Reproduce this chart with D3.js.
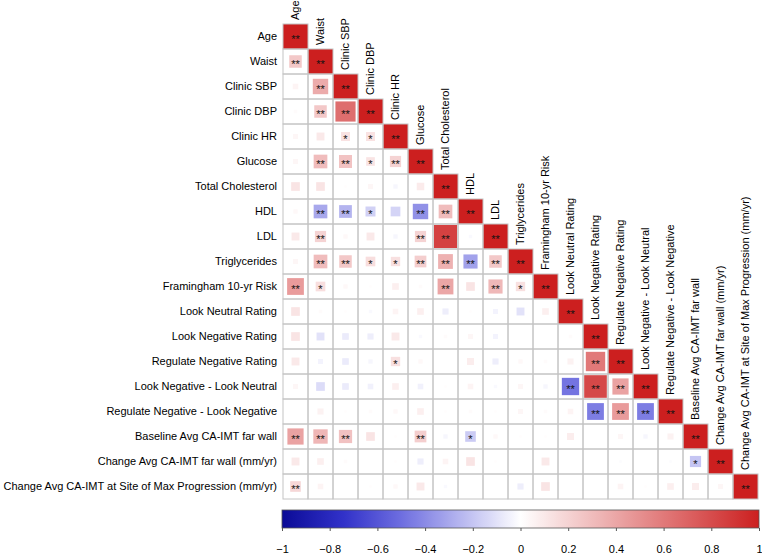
<!DOCTYPE html>
<html><head><meta charset="utf-8">
<script src="https://cdn.jsdelivr.net/npm/d3@7/dist/d3.min.js"></script>
<style>body{margin:0;background:#fff}svg{display:block}text{font-family:"Liberation Sans",Arial,sans-serif}</style>
</head><body><svg id="c" width="762" height="556"></svg>
<script>
const variables = ["Age","Waist","Clinic SBP","Clinic DBP","Clinic HR","Glucose","Total Cholesterol","HDL","LDL","Triglycerides","Framingham 10-yr Risk","Look Neutral Rating","Look Negative Rating","Regulate Negative Rating","Look Negative - Look Neutral","Regulate Negative - Look Negative","Baseline Avg CA-IMT far wall","Change Avg CA-IMT far wall (mm/yr)","Change Avg CA-IMT at Site of Max Progression (mm/yr)"];

// lower-triangle correlations (row i: columns 0..i)
const corrRows = [
  [1],
  [0.25,1],
  [0.05,0.38,1],
  [0.02,0.25,0.65,1],
  [0.04,0.10,0.13,0.13,1],
  [0.04,0.30,0.27,0.12,0.20,1],
  [0.12,0.12,0.01,0.04,-0.03,0.09,1],
  [0.03,-0.30,-0.26,-0.16,-0.15,-0.38,0.30,1],
  [0.10,0.20,0.03,0.10,-0.03,0.20,0.85,-0.02,1],
  [0.04,0.30,0.25,0.15,0.14,0.22,0.35,-0.32,0.25,1],
  [0.45,0.15,0.03,0.01,0.07,0.02,0.40,0.12,0.32,0.14,1],
  [0.12,0.02,0.01,-0.02,0.05,0.07,-0.06,0.01,-0.04,-0.10,0.07,1],
  [0.12,-0.10,-0.07,-0.06,0.10,-0.02,0.02,0.04,-0.04,0.00,0.00,0.02,1],
  [0.10,-0.04,-0.07,-0.03,0.14,0.03,0.00,0.08,-0.06,0.03,0.02,0.06,0.60,1],
  [0.04,-0.12,-0.07,-0.05,0.07,-0.05,0.01,0.05,-0.02,0.04,-0.03,-0.48,0.82,0.42,1],
  [0.00,0.06,0.01,0.02,0.03,0.07,0.01,0.02,0.01,0.04,0.02,0.05,-0.45,0.45,-0.45,1],
  [0.42,0.33,0.28,0.12,0.01,0.22,-0.03,-0.18,0.03,0.01,0.01,0.08,0.00,0.04,-0.03,0.06,1],
  [0.10,0.07,0.02,0.00,0.01,-0.06,0.05,0.12,0.01,0.00,0.10,0.00,0.00,-0.01,0.00,-0.01,-0.20,1],
  [0.18,0.05,0.00,0.01,0.03,0.10,-0.02,0.00,0.00,-0.06,0.12,0.00,0.00,0.05,0.01,0.07,0.08,0.04,1]
];

// significance level per cell: 0 none, 1 "*", 2 "**"
const sigRows = [
  [2],
  [2,2],
  [0,2,2],
  [0,2,2,2],
  [0,0,1,1,2],
  [0,2,2,1,2,2],
  [0,0,0,0,0,0,2],
  [0,2,2,1,0,2,2,2],
  [0,2,0,0,0,2,2,0,2],
  [0,2,2,1,1,2,2,2,2,2],
  [2,1,0,0,0,0,2,0,2,1,2],
  [0,0,0,0,0,0,0,0,0,0,0,2],
  [0,0,0,0,0,0,0,0,0,0,0,0,2],
  [0,0,0,0,1,0,0,0,0,0,0,0,2,2],
  [0,0,0,0,0,0,0,0,0,0,0,2,2,2,2],
  [0,0,0,0,0,0,0,0,0,0,0,0,2,2,2,2],
  [2,2,2,0,0,2,0,1,0,0,0,0,0,0,0,0,2],
  [0,0,0,0,0,0,0,0,0,0,0,0,0,0,0,0,1,2],
  [2,0,0,0,0,0,0,0,0,0,0,0,0,0,0,0,0,0,2]
];

const colorTicks = [-1,-0.8,-0.6,-0.4,-0.2,0,0.2,0.4,0.6,0.8,1];
const colorStops = [-1,-0.75,-0.5,0,0.5,1];
const colorValues = ["#0b0b96","#3030c8","#6e6ee0","#ffffff","#e69090","#cc1f1f"];

const FS = 11;
const svg = d3.select("#c");
const color = d3.scaleLinear().domain(colorStops).range(colorValues).clamp(true);
const xs = d3.scaleBand().domain(variables).range([283,758]);
const ys = d3.scaleBand().domain(variables).range([24,499]);
const cw = xs.bandwidth();

const cells = [];
corrRows.forEach((row,i)=>row.forEach((r,j)=>cells.push({i,j,r,s:sigRows[i][j]})));

const g = svg.append("g");
g.selectAll("rect.bg").data(cells).join("rect")
  .attr("x",d=>xs(variables[d.j])).attr("y",d=>ys(variables[d.i]))
  .attr("width",cw).attr("height",cw).attr("fill","#fff");
g.selectAll("rect.sq").data(cells).join("rect")
  .attr("x",d=>{const s=Math.sqrt(Math.abs(d.r))*cw;return xs(variables[d.j])+(cw-s)/2;})
  .attr("y",d=>{const s=Math.sqrt(Math.abs(d.r))*cw;return ys(variables[d.i])+(cw-s)/2;})
  .attr("width",d=>Math.sqrt(Math.abs(d.r))*cw)
  .attr("height",d=>Math.sqrt(Math.abs(d.r))*cw)
  .attr("fill",d=>color(d.r));
g.selectAll("rect.grid").data(cells).join("rect")
  .attr("x",d=>xs(variables[d.j])).attr("y",d=>ys(variables[d.i]))
  .attr("width",cw).attr("height",cw).attr("fill","none")
  .attr("stroke","#c4c4c4").attr("stroke-width",1);
g.selectAll("text.star").data(cells.filter(d=>d.s>0)).join("text")
  .attr("x",d=>xs(variables[d.j])+cw/2)
  .attr("y",d=>ys(variables[d.i])+cw/2+6.5)
  .attr("text-anchor","middle").attr("font-size",11).attr("fill","#111")
  .text(d=>d.s===2?"**":"*");

svg.append("g").selectAll("text").data(variables).join("text")
  .attr("x",277).attr("y",d=>ys(d)+cw/2).attr("dy","0.35em")
  .attr("text-anchor","end").attr("font-size",FS).attr("fill","#000").text(d=>d);
svg.append("g").selectAll("text").data(variables).join("text")
  .attr("transform",d=>`translate(${xs(d)+cw/2},${ys(d)-4}) rotate(-90)`)
  .attr("dy","0.35em").attr("font-size",FS).attr("fill","#000").text(d=>d);

const cb = d3.scaleLinear().domain([-1,1]).range([282,759]);
const defs = svg.append("defs");
const grad = defs.append("linearGradient").attr("id","cg").attr("x1","0%").attr("x2","100%");
d3.range(0,101).forEach(k=>{
  const v=-1+2*k/100;
  grad.append("stop").attr("offset",k+"%").attr("stop-color",color(v));
});
svg.append("rect").attr("x",cb(-1)).attr("y",510).attr("width",cb(1)-cb(-1)).attr("height",18)
  .attr("fill","url(#cg)").attr("stroke","#555").attr("stroke-width",0.8);
const ax = svg.append("g").attr("transform","translate(0,528)")
  .call(d3.axisBottom(cb).tickValues(colorTicks).tickSize(3).tickPadding(14).tickFormat(d=>d3.format("")(d)));
ax.select(".domain").remove();
ax.selectAll("line").attr("stroke","#555");
ax.selectAll("text").attr("font-size",FS).attr("fill","#000").attr("font-family","Liberation Sans, Arial, sans-serif");
</script></body></html>
